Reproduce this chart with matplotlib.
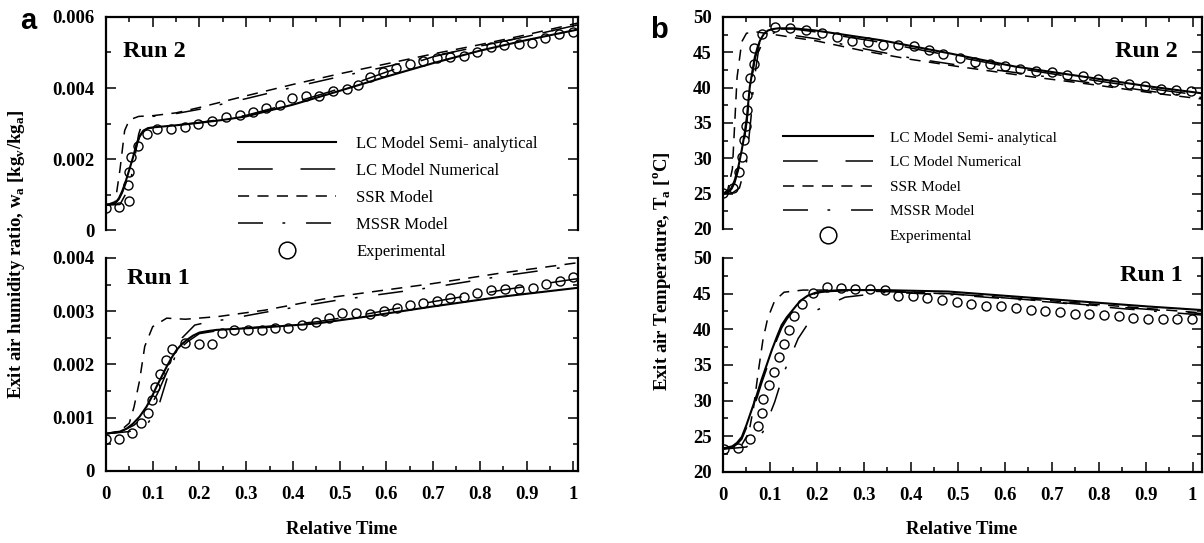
import matplotlib.pyplot as plt
from matplotlib.ticker import MultipleLocator, FuncFormatter
from matplotlib.lines import Line2D

plt.rcParams['font.family'] = ['Liberation Serif', 'DejaVu Serif']
plt.rcParams['mathtext.fontset'] = 'custom'
plt.rcParams['mathtext.rm'] = 'Liberation Serif:bold'
plt.rcParams['lines.scale_dashes'] = False

# ---- panel a, Run 2 (humidity ratio) ----
a2_exp_x = [0.0, 0.028, 0.050, 0.048, 0.050, 0.054, 0.069, 0.087, 0.110, 0.139, 0.169, 0.198, 0.228,
            0.256, 0.287, 0.315, 0.342, 0.373, 0.398, 0.428, 0.456, 0.485, 0.515, 0.540, 0.564, 0.592,
            0.620, 0.650, 0.678, 0.708, 0.737, 0.767, 0.795, 0.824, 0.852, 0.883, 0.912, 0.940, 0.969, 0.999]
a2_exp_y = [0.00061, 0.00064, 0.00083, 0.00127, 0.00162, 0.00205, 0.00237, 0.0027, 0.00284, 0.00284,
            0.00289, 0.00298, 0.00307, 0.00319, 0.00324, 0.00333, 0.00343, 0.00352, 0.00371, 0.00377,
            0.00377, 0.00392, 0.00396, 0.00408, 0.00432, 0.00446, 0.00455, 0.00468, 0.00477, 0.00484,
            0.00486, 0.0049, 0.005, 0.00515, 0.00521, 0.00524, 0.00528, 0.0054, 0.00552, 0.00559]
a2_semi_x = [0, 0.02, 0.028, 0.035, 0.043, 0.05, 0.058, 0.065, 0.072, 0.08, 0.09, 0.1, 0.15, 0.2, 0.25,
             0.3, 0.4, 0.5, 0.6, 0.7, 0.8, 0.9, 1.0, 1.01]
a2_semi_y = [0.0007, 0.00076, 0.0009, 0.0011, 0.0014, 0.0017, 0.00205, 0.0024, 0.00265, 0.0028, 0.00287,
             0.00289, 0.00295, 0.00302, 0.0031, 0.0032, 0.00353, 0.00392, 0.00432, 0.0047, 0.00505,
             0.00535, 0.00562, 0.00565]
a2_num_y = [0.0007, 0.00075, 0.00087, 0.00105, 0.00133, 0.00163, 0.002, 0.00234, 0.00262, 0.00278, 0.00286,
            0.00288, 0.00295, 0.00303, 0.00312, 0.00323, 0.00358, 0.00398, 0.00445, 0.00488, 0.00518,
            0.00545, 0.00575, 0.00578]
a2_ssr_x = [0, 0.02, 0.03, 0.04, 0.05, 0.07, 0.1, 0.15, 0.2, 0.3, 0.4, 0.5, 0.6, 0.7, 0.8, 0.9, 1.0, 1.01]
a2_ssr_y = [0.0007, 0.0008, 0.0017, 0.0028, 0.0031, 0.0032, 0.00322, 0.0033, 0.00345, 0.00378, 0.0041,
            0.0044, 0.00468, 0.00496, 0.00522, 0.0055, 0.0058, 0.00583]
a2_mssr_x = [0, 0.03, 0.05, 0.06, 0.07, 0.08, 0.1, 0.15, 0.2, 0.3, 0.4, 0.5, 0.6, 0.7, 0.8, 0.9, 1.0, 1.01]
a2_mssr_y = [0.0007, 0.00072, 0.0012, 0.0019, 0.0027, 0.0031, 0.0032, 0.00328, 0.0034, 0.0037, 0.00402,
             0.00432, 0.0046, 0.0049, 0.00517, 0.00545, 0.00575, 0.00578]

# ---- panel a, Run 1 ----
a1_exp_x = [0.0, 0.028, 0.055, 0.074, 0.091, 0.098, 0.105, 0.116, 0.128, 0.142, 0.169, 0.199, 0.228,
            0.248, 0.274, 0.303, 0.333, 0.362, 0.390, 0.420, 0.449, 0.477, 0.506, 0.535, 0.565, 0.594,
            0.622, 0.651, 0.678, 0.708, 0.737, 0.767, 0.795, 0.824, 0.854, 0.883, 0.913, 0.942, 0.971, 0.999]
a1_exp_y = [0.000595, 0.000595, 0.000707, 0.000895, 0.00108, 0.00133, 0.00158, 0.00182, 0.00208, 0.0023,
            0.0024, 0.00238, 0.00238, 0.0026, 0.00264, 0.00264, 0.00265, 0.00268, 0.00269, 0.00274,
            0.00279, 0.00287, 0.00296, 0.00296, 0.00295, 0.003, 0.00306, 0.00312, 0.00315, 0.0032,
            0.00324, 0.00327, 0.00334, 0.00339, 0.00341, 0.00341, 0.00344, 0.00351, 0.00357, 0.00364]
a1_semi_x = [0, 0.03, 0.045, 0.058, 0.072, 0.087, 0.098, 0.108, 0.119, 0.13, 0.14, 0.151, 0.162, 0.173,
             0.186, 0.2, 0.22, 0.237, 0.344, 0.451, 0.558, 0.7, 0.844, 1.0, 1.01]
a1_semi_y = [0.0007, 0.00074, 0.0008, 0.00089, 0.00102, 0.00121, 0.00139, 0.00158, 0.00177, 0.00196,
             0.00212, 0.00227, 0.00238, 0.00246, 0.00254, 0.0026, 0.00263, 0.00265, 0.0027, 0.00277,
             0.0029, 0.00309, 0.00327, 0.00343, 0.00344]
a1_num_x = [0, 0.03, 0.06, 0.08, 0.095, 0.11, 0.12, 0.13, 0.14, 0.15, 0.162, 0.175, 0.2, 0.25, 0.35,
            0.45, 0.56, 0.7, 0.85, 1.0, 1.01]
a1_num_y = [0.0007, 0.00073, 0.00086, 0.00101, 0.00121, 0.00145, 0.00165, 0.00185, 0.00204, 0.0022,
            0.00233, 0.00243, 0.00258, 0.00265, 0.00272, 0.0028, 0.00295, 0.00318, 0.0034, 0.0036, 0.00361]
a1_ssr_x = [0, 0.03, 0.05, 0.06, 0.072, 0.083, 0.1, 0.13, 0.17, 0.24, 0.34, 0.49, 0.7, 0.84, 1.0, 1.01]
a1_ssr_y = [0.0007, 0.00075, 0.0009, 0.0012, 0.0017, 0.00234, 0.00271, 0.00287, 0.00285, 0.0029, 0.00302,
            0.00327, 0.00352, 0.00371, 0.0039, 0.00391]
a1_mssr_x = [0, 0.05, 0.09, 0.112, 0.133, 0.15, 0.163, 0.19, 0.22, 0.26, 0.34, 0.49, 0.7, 0.84, 1.0, 1.01]
a1_mssr_y = [0.0007, 0.00074, 0.0009, 0.0012, 0.0018, 0.0022, 0.0025, 0.00274, 0.0028, 0.00285, 0.00298,
             0.0032, 0.00345, 0.00365, 0.00385, 0.00386]

# ---- panel b, Run 2 (temperature) ----
b2_exp_x = [0.0, 0.022, 0.034, 0.040, 0.045, 0.048, 0.052, 0.052, 0.057, 0.065, 0.067, 0.082, 0.111,
            0.143, 0.176, 0.210, 0.242, 0.274, 0.308, 0.341, 0.372, 0.406, 0.438, 0.469, 0.504, 0.536,
            0.568, 0.600, 0.633, 0.667, 0.701, 0.733, 0.767, 0.799, 0.833, 0.864, 0.898, 0.932, 0.965, 0.997]
b2_exp_y = [25.1, 25.8, 28.1, 30.2, 32.6, 34.6, 36.8, 39.0, 41.3, 43.4, 45.6, 47.6, 48.6, 48.4, 48.1,
            47.7, 47.1, 46.6, 46.4, 46.0, 46.1, 45.9, 45.3, 44.7, 44.2, 43.7, 43.3, 43.0, 42.6, 42.4,
            42.2, 41.8, 41.6, 41.2, 40.8, 40.5, 40.2, 39.8, 39.7, 39.5]
b2_semi_x = [0, 0.01, 0.018, 0.025, 0.033, 0.04, 0.046, 0.051, 0.057, 0.063, 0.068, 0.074, 0.079, 0.087,
             0.096, 0.107, 0.118, 0.15, 0.196, 0.338, 0.479, 0.621, 0.763, 0.905, 1.02]
b2_semi_y = [25.0, 25.2, 25.8, 26.9, 28.9, 31.2, 33.5, 35.9, 40.1, 42.5, 44.4, 45.8, 46.7, 47.6, 48.1,
             48.3, 48.4, 48.4, 48.1, 46.7, 44.9, 43.0, 41.6, 40.2, 39.2]
b2_num_y = [25.0, 25.1, 25.6, 26.5, 28.4, 30.6, 32.9, 35.2, 39.5, 42.0, 44.0, 45.5, 46.5, 47.4, 48.0,
            48.2, 48.3, 48.3, 47.9, 46.4, 44.6, 42.8, 41.3, 39.9, 38.9]
b2_ssr_x = [0, 0.01, 0.02, 0.025, 0.03, 0.04, 0.05, 0.07, 0.1, 0.2, 0.3, 0.4, 0.5, 0.65, 0.78, 0.92, 1.02]
b2_ssr_y = [25.0, 25.5, 28.5, 35.0, 41.5, 46.5, 47.7, 47.9, 47.6, 46.6, 45.2, 44.0, 43.0, 41.6, 40.5, 39.2, 38.4]
b2_mssr_x = [0, 0.02, 0.035, 0.05, 0.06, 0.065, 0.075, 0.09, 0.11, 0.2, 0.3, 0.4, 0.5, 0.65, 0.78, 0.92, 1.02]
b2_mssr_y = [25.0, 25.1, 25.8, 29.5, 36.0, 40.5, 45.0, 47.2, 47.8, 46.9, 45.5, 44.2, 43.2, 41.9, 40.7, 39.4, 38.6]

# ---- panel b, Run 1 ----
b1_exp_x = [0.003, 0.033, 0.057, 0.075, 0.084, 0.086, 0.099, 0.109, 0.120, 0.130, 0.140, 0.151, 0.169,
            0.192, 0.221, 0.251, 0.282, 0.314, 0.345, 0.373, 0.405, 0.435, 0.467, 0.499, 0.529, 0.561,
            0.591, 0.625, 0.655, 0.685, 0.717, 0.749, 0.779, 0.811, 0.843, 0.873, 0.905, 0.936, 0.967, 0.999]
b1_exp_y = [23.2, 23.4, 24.6, 26.4, 28.2, 30.2, 32.2, 34.0, 36.1, 37.9, 39.9, 41.8, 43.6, 45.1, 46.0,
            45.8, 45.7, 45.7, 45.5, 44.7, 44.6, 44.4, 44.1, 43.8, 43.6, 43.3, 43.2, 43.0, 42.7, 42.6,
            42.4, 42.2, 42.1, 42.0, 41.8, 41.6, 41.5, 41.5, 41.4, 41.4]
b1_semi_x = [0, 0.02, 0.03, 0.04, 0.05, 0.061, 0.072, 0.082, 0.093, 0.104, 0.115, 0.125, 0.136, 0.146,
             0.157, 0.167, 0.18, 0.196, 0.21, 0.224, 0.26, 0.338, 0.479, 0.621, 0.763, 0.905, 1.02]
b1_semi_y = [23.3, 23.6, 24.1, 24.9, 26.6, 28.7, 30.8, 32.9, 35.0, 37.1, 39.0, 40.6, 41.7, 42.5, 43.4,
             44.1, 44.7, 45.1, 45.3, 45.4, 45.5, 45.5, 45.3, 44.6, 43.9, 43.2, 42.7]
b1_num_y = [23.3, 23.5, 23.9, 24.6, 26.2, 28.2, 30.3, 32.4, 34.5, 36.6, 38.6, 40.2, 41.4, 42.3, 43.2,
            43.9, 44.5, 45.0, 45.2, 45.3, 45.4, 45.3, 45.0, 44.3, 43.5, 42.8, 42.2]
b1_ssr_x = [0, 0.04, 0.055, 0.065, 0.075, 0.085, 0.095, 0.11, 0.13, 0.17, 0.3, 0.5, 0.7, 0.85, 1.02]
b1_ssr_y = [23.2, 23.8, 25.5, 29.0, 34.0, 38.5, 41.5, 44.0, 45.2, 45.5, 45.5, 44.9, 44.0, 43.2, 42.3]
b1_mssr_x = [0, 0.05, 0.085, 0.11, 0.13, 0.16, 0.2, 0.26, 0.35, 0.5, 0.7, 0.85, 1.02]
b1_mssr_y = [23.2, 23.5, 25.6, 29.8, 34.0, 38.7, 42.7, 44.5, 45.2, 44.8, 43.8, 42.9, 42.0]

labels = ["LC Model Semi- analytical", "LC Model Numerical", "SSR Model", "MSSR Model", "Experimental"]

semi_st = dict(color='k', ls='-', lw=1.5)
num_st = dict(color='k', ls=(0, (25, 20)), lw=1.1)
ssr_st = dict(color='k', ls=(0, (8, 6)), lw=1.1)
mssr_st = dict(color='k', ls=(0, (18, 14, 2, 15)), lw=1.1)
exp_st = dict(ls='none', marker='o', ms=6.5, mfc='none', mec='k', mew=1.0)

fig = plt.figure(figsize=(12.04, 5.43), dpi=100)


def xfmt(v, pos):
    if abs(v) < 1e-9:
        return '0'
    if abs(v - 1) < 1e-9:
        return '1'
    return f'{v:.1f}'


def hfmt(v, pos):
    return '0' if abs(v) < 1e-9 else f'{v:.3f}'


def style(ax, top, xmax, ylim, major, minor):
    ax.patch.set_visible(False)
    ax.set_xlim(0, xmax)
    ax.set_ylim(*ylim)
    ax.xaxis.set_major_locator(MultipleLocator(0.1))
    ax.xaxis.set_minor_locator(MultipleLocator(0.05))
    ax.yaxis.set_major_locator(MultipleLocator(major))
    ax.yaxis.set_minor_locator(MultipleLocator(minor))
    ax.xaxis.set_major_formatter(FuncFormatter(xfmt))
    for s in ax.spines.values():
        s.set_linewidth(1.6)
    if top:
        ax.spines['bottom'].set_visible(False)
        ax.tick_params(axis='x', which='both', bottom=False, top=True, labelbottom=False)
    else:
        ax.spines['top'].set_visible(False)
        ax.tick_params(axis='x', which='both', bottom=True, top=False)
    ax.tick_params(axis='y', which='both', left=True, right=True)
    ax.tick_params(which='both', direction='in', width=1.1)
    ax.tick_params(which='major', length=7, labelsize=13.5)
    ax.tick_params(which='minor', length=3.5)
    ax.tick_params(axis='y', pad=8)
    ax.tick_params(axis='x', pad=11)


def draw(ax, sx, sy, nx, ny, ssx, ssy, mx, my, ex, ey):
    ax.plot(sx, sy, **semi_st)
    ax.plot(nx, ny, **num_st)
    ax.plot(ssx, ssy, **ssr_st)
    ax.plot(mx, my, **mssr_st)
    ax.plot(ex, ey, **exp_st)


def bold_ticks(ax):
    for lab in ax.get_xticklabels() + ax.get_yticklabels():
        lab.set_fontweight('bold')


# panel a
axa2 = fig.add_axes([0.0880, 0.5764, 0.392, 0.3923])
axa1 = fig.add_axes([0.0880, 0.1326, 0.392, 0.3923])
draw(axa2, a2_semi_x, a2_semi_y, a2_semi_x, a2_num_y, a2_ssr_x, a2_ssr_y, a2_mssr_x, a2_mssr_y, a2_exp_x, a2_exp_y)
draw(axa1, a1_semi_x, a1_semi_y, a1_num_x, a1_num_y, a1_ssr_x, a1_ssr_y, a1_mssr_x, a1_mssr_y, a1_exp_x, a1_exp_y)
style(axa2, True, 1.01, (0, 0.006), 0.002, 0.001)
style(axa1, False, 1.01, (0, 0.004), 0.001, 0.0005)
for ax in (axa2, axa1):
    ax.yaxis.set_major_formatter(FuncFormatter(hfmt))
    bold_ticks(ax)
axa2.text(0.036, 0.836, "Run 2", transform=axa2.transAxes, fontsize=17.5, fontweight='bold', va='center', ha='left')
axa1.text(0.044, 0.906, "Run 1", transform=axa1.transAxes, fontsize=17.5, fontweight='bold', va='center', ha='left')

# panel b
axb2 = fig.add_axes([0.6005, 0.5783, 0.3978, 0.3904])
axb1 = fig.add_axes([0.6005, 0.1308, 0.3978, 0.3941])
draw(axb2, b2_semi_x, b2_semi_y, b2_semi_x, b2_num_y, b2_ssr_x, b2_ssr_y, b2_mssr_x, b2_mssr_y, b2_exp_x, b2_exp_y)
draw(axb1, b1_semi_x, b1_semi_y, b1_semi_x, b1_num_y, b1_ssr_x, b1_ssr_y, b1_mssr_x, b1_mssr_y, b1_exp_x, b1_exp_y)
style(axb2, True, 1.02, (20, 50), 5, 2.5)
style(axb1, False, 1.02, (20, 50), 5, 2.5)
for ax in (axb2, axb1):
    bold_ticks(ax)
axb2.text(0.95, 0.835, "Run 2", transform=axb2.transAxes, fontsize=17.5, fontweight='bold', va='center', ha='right')
axb1.text(0.96, 0.916, "Run 1", transform=axb1.transAxes, fontsize=17.5, fontweight='bold', va='center', ha='right')

# legends (placed in figure coords, drawn above the lower axes)
handles = [Line2D([], [], **semi_st), Line2D([], [], **num_st), Line2D([], [], **ssr_st),
           Line2D([], [], **mssr_st), Line2D([], [], ls='none', marker='o', ms=12, mfc='none', mec='k', mew=1.1)]
leg_a = axa2.legend(handles, labels, loc='center left', bbox_to_anchor=(238 / 1204, 1 - 198 / 543),
                    bbox_transform=fig.transFigure, frameon=False, fontsize=12, handlelength=5.9,
                    handletextpad=1.2, labelspacing=0.66, borderpad=0, borderaxespad=0)
leg_b = axb2.legend(handles, labels, loc='center left', bbox_to_anchor=(783 / 1204, 1 - 187 / 543),
                    bbox_transform=fig.transFigure, frameon=False, fontsize=11, handlelength=5.9,
                    handletextpad=1.1, labelspacing=0.71, borderpad=0, borderaxespad=0)
axa2.set_zorder(3)
axb2.set_zorder(3)

# axis labels and panel letters
fig.text(342 / 1204, 1 - 530 / 543, "Relative Time", ha='center', va='center', fontsize=13.5, fontweight='bold')
fig.text(962 / 1204, 1 - 530 / 543, "Relative Time", ha='center', va='center', fontsize=13.5, fontweight='bold')
fig.text(17 / 1204, 1 - 254 / 543, r"Exit air humidity ratio, w$_\mathrm{a}$ [kg$_\mathrm{v}$/kg$_\mathrm{a}$]",
         rotation=90, ha='center', va='center', fontsize=13.5, fontweight='bold')
fig.text(662 / 1204, 1 - 271 / 543, r"Exit air Temperature, T$_\mathrm{a}$ [$^\mathrm{o}$C]",
         rotation=90, ha='center', va='center', fontsize=13.5, fontweight='bold')
fig.text(28 / 1204, 1 - 21 / 543, "a", ha='center', va='center', fontsize=21, fontweight='bold', family='Liberation Sans')
fig.text(659 / 1204, 1 - 30 / 543, "b", ha='center', va='center', fontsize=21, fontweight='bold', family='Liberation Sans')

fig.savefig("out.png", dpi=100)
